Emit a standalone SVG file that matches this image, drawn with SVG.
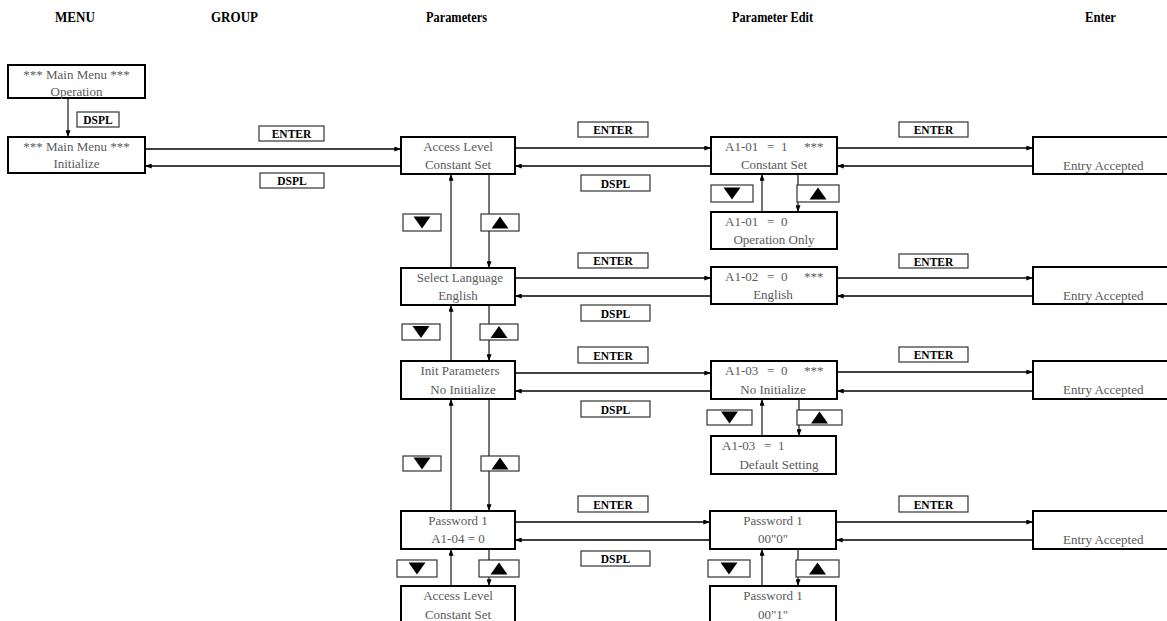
<svg xmlns="http://www.w3.org/2000/svg" width="1167" height="621" viewBox="0 0 1167 621">
<style>
.hdr{font-family:"Liberation Serif",serif;font-weight:bold;font-size:14px;fill:#000}
.nd{fill:#fff;stroke:#000;stroke-width:2}
.t{font-family:"Liberation Serif",serif;font-size:13px;fill:#5a5a5a}
.c{text-anchor:middle}
.lb{fill:#fff;stroke:#333;stroke-width:1.2}
.lt{font-family:"Liberation Serif",serif;font-weight:bold;font-size:11.5px;fill:#000;text-anchor:middle}
.h{stroke:#000;stroke-width:1.6;fill:none;marker-end:url(#ah)}
.v{stroke:#000;stroke-width:1.1;fill:none;marker-end:url(#ah)}
.tri{fill:#000}
</style>
<defs>
<marker id="ah" viewBox="0 0 8 6" refX="8" refY="3" markerWidth="7" markerHeight="5" markerUnits="userSpaceOnUse" orient="auto"><path d="M0,0 L8,3 L0,6 z" fill="#000"/></marker>
<polygon id="dn" points="-8.5,-6 8.5,-6 0,6"/>
<polygon id="up" points="-8.5,6 8.5,6 0,-6"/>
</defs>
<rect width="1167" height="621" fill="#fff"/>

<g id="headers">
<text class="hdr" x="55" y="22" textLength="40" lengthAdjust="spacingAndGlyphs">MENU</text>
<text class="hdr" x="211" y="22" textLength="47" lengthAdjust="spacingAndGlyphs">GROUP</text>
<text class="hdr" x="426" y="22" textLength="61" lengthAdjust="spacingAndGlyphs">Parameters</text>
<text class="hdr" x="732" y="22" textLength="81" lengthAdjust="spacingAndGlyphs">Parameter Edit</text>
<text class="hdr" x="1085" y="22" textLength="31" lengthAdjust="spacingAndGlyphs">Enter</text>
</g>

<g id="connectors">
<!-- menu -->
<line class="v" x1="68" y1="98" x2="68" y2="137"/>
<line class="h" x1="145" y1="149" x2="401" y2="149"/>
<line class="h" x1="401" y1="166" x2="145" y2="166"/>
<!-- row 1 -->
<line class="h" x1="515" y1="148" x2="711" y2="148"/>
<line class="h" x1="711" y1="166" x2="515" y2="166"/>
<line class="h" x1="837" y1="148" x2="1033" y2="148"/>
<line class="h" x1="1033" y1="166" x2="837" y2="166"/>
<line class="v" x1="762" y1="212" x2="762" y2="174"/>
<line class="v" x1="798" y1="174" x2="798" y2="212"/>
<line class="v" x1="451" y1="268" x2="451" y2="174"/>
<line class="v" x1="489" y1="174" x2="489" y2="268"/>
<!-- row 2 -->
<line class="h" x1="515" y1="278" x2="711" y2="278"/>
<line class="h" x1="711" y1="296" x2="515" y2="296"/>
<line class="h" x1="837" y1="278" x2="1033" y2="278"/>
<line class="h" x1="1033" y1="296" x2="837" y2="296"/>
<line class="v" x1="451" y1="361" x2="451" y2="305"/>
<line class="v" x1="489" y1="305" x2="489" y2="361"/>
<!-- row 3 -->
<line class="h" x1="515" y1="373" x2="711" y2="373"/>
<line class="h" x1="711" y1="391" x2="515" y2="391"/>
<line class="h" x1="837" y1="372" x2="1033" y2="372"/>
<line class="h" x1="1033" y1="391" x2="837" y2="391"/>
<line class="v" x1="762" y1="436" x2="762" y2="399"/>
<line class="v" x1="799" y1="399" x2="799" y2="436"/>
<line class="v" x1="451" y1="511" x2="451" y2="399"/>
<line class="v" x1="489" y1="399" x2="489" y2="511"/>
<!-- row 4 -->
<line class="h" x1="515" y1="522" x2="710" y2="522"/>
<line class="h" x1="710" y1="540" x2="515" y2="540"/>
<line class="h" x1="836" y1="522" x2="1033" y2="522"/>
<line class="h" x1="1033" y1="540" x2="836" y2="540"/>
<line class="v" x1="451" y1="586" x2="451" y2="549"/>
<line class="v" x1="489" y1="549" x2="489" y2="586"/>
<line class="v" x1="762" y1="586" x2="762" y2="549"/>
<line class="v" x1="798" y1="549" x2="798" y2="586"/>
</g>

<g id="labels">
<rect class="lb" x="77" y="112" width="42" height="15"/><text class="lt" x="98" y="124">DSPL</text>
<rect class="lb" x="259" y="126" width="65" height="15"/><text class="lt" x="291.5" y="138">ENTER</text>
<rect class="lb" x="260" y="173" width="64" height="15"/><text class="lt" x="292" y="185">DSPL</text>

<rect class="lb" x="578" y="122" width="70" height="15"/><text class="lt" x="613" y="134">ENTER</text>
<rect class="lb" x="581" y="175" width="69" height="16"/><text class="lt" x="615.5" y="187.5">DSPL</text>
<rect class="lb" x="899" y="122" width="69" height="15"/><text class="lt" x="933.5" y="134">ENTER</text>

<rect class="lb" x="578" y="253" width="70" height="15"/><text class="lt" x="613" y="265">ENTER</text>
<rect class="lb" x="581" y="305" width="69" height="16"/><text class="lt" x="615.5" y="317.5">DSPL</text>
<rect class="lb" x="899" y="254" width="69" height="14"/><text class="lt" x="933.5" y="265.5">ENTER</text>

<rect class="lb" x="578" y="347" width="70" height="16"/><text class="lt" x="613" y="359.5">ENTER</text>
<rect class="lb" x="581" y="401" width="69" height="16"/><text class="lt" x="615.5" y="413.5">DSPL</text>
<rect class="lb" x="899" y="347" width="69" height="15"/><text class="lt" x="933.5" y="359">ENTER</text>

<rect class="lb" x="578" y="496" width="70" height="16"/><text class="lt" x="613" y="508.5">ENTER</text>
<rect class="lb" x="581" y="551" width="69" height="15"/><text class="lt" x="615.5" y="563">DSPL</text>
<rect class="lb" x="899" y="496" width="69" height="16"/><text class="lt" x="933.5" y="508.5">ENTER</text>

<!-- arrow key labels -->
<rect class="lb" x="711" y="185" width="42" height="17"/><use href="#dn" x="732" y="193.5"/>
<rect class="lb" x="797" y="185" width="42" height="17"/><use href="#up" x="818" y="193.5"/>
<rect class="lb" x="403" y="214" width="38" height="17"/><use href="#dn" x="422" y="222.5"/>
<rect class="lb" x="481" y="214" width="38" height="17"/><use href="#up" x="500" y="222.5"/>
<rect class="lb" x="402" y="324" width="38" height="16"/><use href="#dn" x="421" y="332"/>
<rect class="lb" x="480" y="324" width="38" height="16"/><use href="#up" x="499" y="332"/>
<rect class="lb" x="707" y="410" width="45" height="15"/><use href="#dn" x="729.5" y="417.5"/>
<rect class="lb" x="797" y="410" width="45" height="15"/><use href="#up" x="819.5" y="417.5"/>
<rect class="lb" x="403" y="456" width="38" height="15"/><use href="#dn" x="422" y="463.5"/>
<rect class="lb" x="481" y="456" width="38" height="15"/><use href="#up" x="500" y="463.5"/>
<rect class="lb" x="397" y="560" width="40" height="17"/><use href="#dn" x="417" y="568.5"/>
<rect class="lb" x="479" y="560" width="40" height="17"/><use href="#up" x="499" y="568.5"/>
<rect class="lb" x="708" y="560" width="42" height="17"/><use href="#dn" x="729" y="568.5"/>
<rect class="lb" x="796" y="560" width="43" height="17"/><use href="#up" x="817.5" y="568.5"/>
</g>

<g id="main-operation">
<rect class="nd" x="8" y="65" width="137" height="33"/>
<text class="t c" x="76.5" y="79">*** Main Menu ***</text>
<text class="t c" x="76.5" y="96">Operation</text>
</g>
<g id="main-initialize">
<rect class="nd" x="8" y="137" width="137" height="36"/>
<text class="t c" x="76.5" y="151">*** Main Menu ***</text>
<text class="t c" x="76.5" y="168">Initialize</text>
</g>

<g id="param-access">
<rect class="nd" x="401" y="137" width="114" height="37"/>
<text class="t c" x="458" y="151">Access Level</text>
<text class="t c" x="458" y="169">Constant Set</text>
</g>
<g id="param-language">
<rect class="nd" x="401" y="268" width="114" height="37"/>
<text class="t c" x="460" y="282">Select Language</text>
<text class="t c" x="458" y="300">English</text>
</g>
<g id="param-init">
<rect class="nd" x="401" y="361" width="114" height="38"/>
<text class="t c" x="460" y="375">Init Parameters</text>
<text class="t c" x="463" y="393.5">No Initialize</text>
</g>
<g id="param-password">
<rect class="nd" x="401" y="511" width="114" height="38"/>
<text class="t c" x="458" y="525">Password 1</text>
<text class="t c" x="458" y="543">A1-04 = 0</text>
</g>
<g id="param-access-2">
<rect class="nd" x="401" y="586" width="114" height="45"/>
<text class="t c" x="458" y="600">Access Level</text>
<text class="t c" x="458" y="619">Constant Set</text>
</g>

<g id="edit-a101">
<rect class="nd" x="711" y="137" width="126" height="37"/>
<text class="t" y="151"><tspan x="725">A1-01</tspan><tspan x="767">=</tspan><tspan x="781">1</tspan><tspan x="804">***</tspan></text>
<text class="t c" x="774" y="169">Constant Set</text>
</g>
<g id="edit-a101-0">
<rect class="nd" x="711" y="212" width="126" height="37"/>
<text class="t" y="226"><tspan x="725">A1-01</tspan><tspan x="767">=</tspan><tspan x="781">0</tspan></text>
<text class="t c" x="774" y="244">Operation Only</text>
</g>
<g id="edit-a102">
<rect class="nd" x="711" y="267" width="126" height="37"/>
<text class="t" y="281"><tspan x="725">A1-02</tspan><tspan x="767">=</tspan><tspan x="781">0</tspan><tspan x="804">***</tspan></text>
<text class="t c" x="773" y="299">English</text>
</g>
<g id="edit-a103">
<rect class="nd" x="711" y="361" width="126" height="38"/>
<text class="t" y="375"><tspan x="725">A1-03</tspan><tspan x="767">=</tspan><tspan x="781">0</tspan><tspan x="804">***</tspan></text>
<text class="t c" x="773" y="393.5">No Initialize</text>
</g>
<g id="edit-a103-1">
<rect class="nd" x="711" y="436" width="125" height="38"/>
<text class="t" y="450"><tspan x="722">A1-03</tspan><tspan x="764">=</tspan><tspan x="778">1</tspan></text>
<text class="t c" x="779" y="469">Default Setting</text>
</g>
<g id="edit-password-0">
<rect class="nd" x="710" y="511" width="126" height="38"/>
<text class="t c" x="773" y="525">Password 1</text>
<text class="t c" x="773" y="543">00"0"</text>
</g>
<g id="edit-password-1">
<rect class="nd" x="710" y="586" width="126" height="45"/>
<text class="t c" x="773" y="600">Password 1</text>
<text class="t c" x="773" y="619">00"1"</text>
</g>

<g id="enter-1">
<rect class="nd" x="1033" y="137" width="150" height="37"/>
<text class="t" x="1063" y="170">Entry Accepted</text>
</g>
<g id="enter-2">
<rect class="nd" x="1033" y="267" width="150" height="37"/>
<text class="t" x="1063" y="300">Entry Accepted</text>
</g>
<g id="enter-3">
<rect class="nd" x="1033" y="361" width="150" height="38"/>
<text class="t" x="1063" y="394">Entry Accepted</text>
</g>
<g id="enter-4">
<rect class="nd" x="1033" y="511" width="150" height="38"/>
<text class="t" x="1063" y="544">Entry Accepted</text>
</g>
</svg>
